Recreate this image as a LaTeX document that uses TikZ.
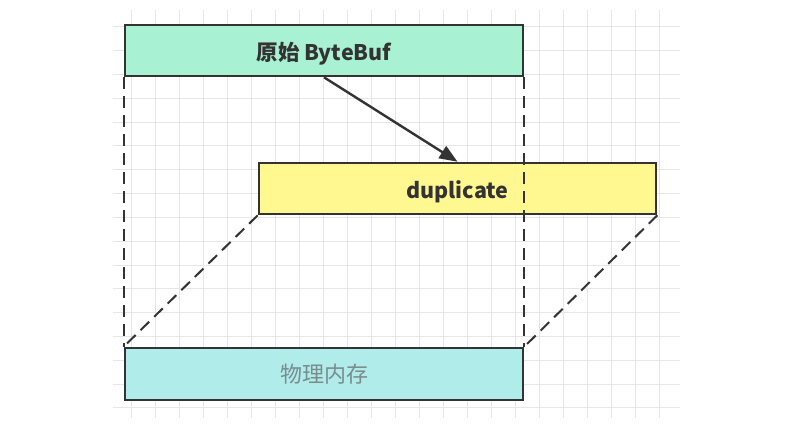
\documentclass[tikz,border=0pt]{standalone}
\usepackage{fontspec}
\newfontfamily\cjk{Noto Sans CJK SC}
\usetikzlibrary{arrows.meta}
\definecolor{gridc}{RGB}{230,230,230}
\definecolor{edge}{RGB}{51,51,51}
\definecolor{mint}{RGB}{168,242,211}
\definecolor{lemon}{RGB}{255,247,143}
\definecolor{aqua}{RGB}{175,236,234}
\definecolor{softtext}{RGB}{122,140,142}
\newcommand{\dropthree}[1]{\raisebox{-3pt}[\height][\depth]{#1}}
\tikzset{
  box/.style={draw=edge, line width=2.6pt, minimum width=398pt, minimum height=51pt, inner sep=0pt},
  boldlabel/.style={font=\cjk\bfseries\fontsize{21.5}{21.5}\selectfont, text=edge},
  guide/.style={draw=edge, line width=2pt, dash pattern=on 12pt off 7pt},
  link/.style={draw=edge, line width=2.4pt, -{Triangle[length=18pt,width=14pt]}}
}
\begin{document}
\begin{tikzpicture}[x=1pt,y=-1pt]
\useasboundingbox (0,0) rectangle (795,433);
\fill[white] (0,0) rectangle (795,433);
% grid
\foreach \k in {0,...,22} \draw[gridc, line width=1pt] (131.5+24*\k,10) -- (131.5+24*\k,418);
\foreach \k in {0,...,16} \draw[gridc, line width=1pt] (113,26.7+23.83*\k) -- (680,26.7+23.83*\k);
% boxes
\node[box, fill=mint, boldlabel] (orig) at (324,50.5) {\dropthree{原始 ByteBuf}};
\node[box, fill=lemon, boldlabel, minimum width=397pt] (dup) at (457.5,188.5) {\dropthree{duplicate}};
\node[box, fill=aqua, text=softtext, minimum height=52pt, font=\cjk\fontsize{22}{22}\selectfont] (mem) at (324,374) {物理内存};
% dashed guides
\draw[guide] (orig.south west) -- (mem.north west);
\draw[guide] (orig.south east) -- (mem.north east);
\draw[guide] (dup.south west) -- (mem.north west);
\draw[guide] (dup.south east) -- (mem.north east);
% arrow
\draw[link] (orig.south) -- (dup.north);
\end{tikzpicture}
\end{document}
